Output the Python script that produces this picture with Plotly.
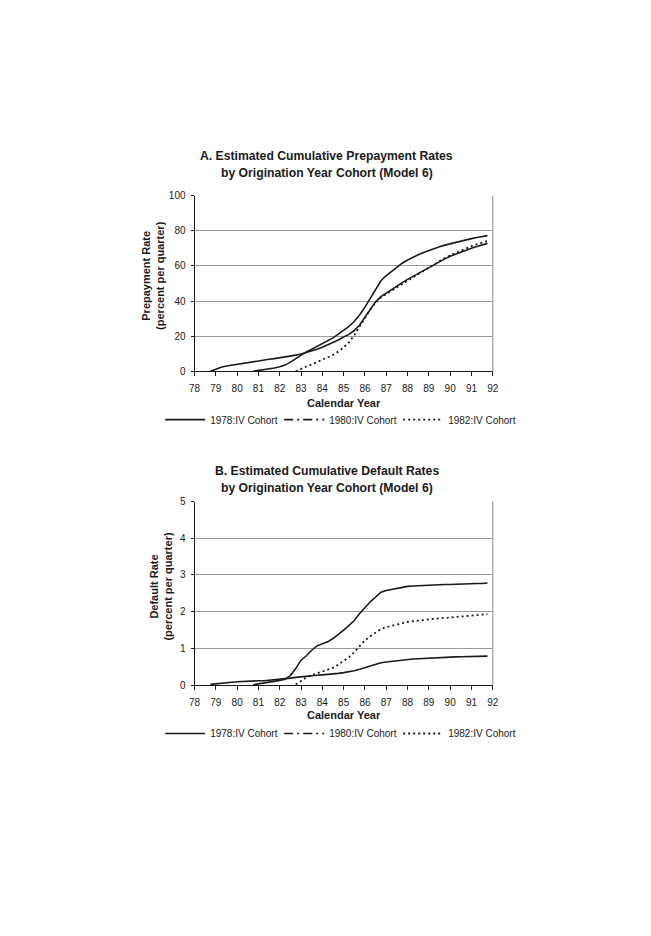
import plotly.graph_objects as go

# ---------------- data ----------------
years_tick = list(range(78, 93))
tick_labels = [str(y) for y in years_tick]

# quarterly x positions (calendar year, 2-digit)
x_1978 = [78.75 + 0.25 * i for i in range(53)]
x_1980 = [80.75 + 0.25 * i for i in range(45)]
x_1982 = [82.75 + 0.25 * i for i in range(37)]

prepay_1978 = [0.0, 1.2, 2.3, 3.0, 3.5, 4.0, 4.6, 5.2, 5.7, 6.1, 6.5, 6.8, 7.2, 7.6,
               8.0, 8.6, 9.2, 9.8, 10.6, 11.6, 12.6, 13.7, 15.0, 16.3, 17.8, 19.5,
               21.0, 23.2, 26.3, 30.8, 35.5, 39.5, 42.5, 44.6, 46.6, 48.5, 50.5,
               52.3, 54.0, 55.8, 57.5, 59.2, 60.9, 62.5, 64.0, 65.5, 66.7, 67.8,
               68.9, 70.0, 71.0, 72.0, 72.8]
prepay_1980 = [0.0, 0.4, 0.9, 1.3, 1.9, 2.6, 3.5, 5.2, 7.2, 9.3, 11.0, 12.5, 14.2,
               15.8, 17.4, 19.0, 21.2, 23.3, 25.5, 28.5, 32.0, 36.5, 41.5, 46.0,
               51.5, 54.5, 57.0, 59.5, 61.5, 63.3, 64.9, 66.3, 67.6, 68.8, 69.9,
               70.9, 71.8, 72.6, 73.4, 74.1, 74.8, 75.5, 76.1, 76.7, 77.2]
prepay_1982 = [0.0, 1.5, 2.7, 3.9, 5.2, 6.5, 7.8, 9.3, 11.2, 13.5, 16.5, 20.5, 25.5,
               30.5, 35.2, 39.0, 42.0, 44.0, 45.8, 47.6, 49.6, 51.5, 53.4, 55.3,
               57.2, 59.2, 61.0, 62.8, 64.5, 66.0, 67.4, 68.7, 70.0, 71.2, 72.3,
               73.3, 74.2]

default_1978 = [0.02, 0.04, 0.06, 0.07, 0.08, 0.09, 0.10, 0.10, 0.11, 0.12, 0.12,
                0.13, 0.14, 0.15, 0.16, 0.19, 0.21, 0.23, 0.25, 0.26, 0.27, 0.28,
                0.29, 0.31, 0.32, 0.34, 0.36, 0.39, 0.43, 0.48, 0.52, 0.56, 0.61,
                0.63, 0.65, 0.67, 0.69, 0.70, 0.71, 0.72, 0.73, 0.74, 0.745, 0.75,
                0.76, 0.765, 0.77, 0.775, 0.78, 0.78, 0.785, 0.79, 0.79]
default_1980 = [0.01, 0.03, 0.05, 0.07, 0.10, 0.13, 0.16, 0.26, 0.45, 0.68, 0.80,
                0.95, 1.07, 1.12, 1.18, 1.27, 1.38, 1.50, 1.63, 1.76, 1.95, 2.12,
                2.27, 2.40, 2.53, 2.58, 2.61, 2.64, 2.67, 2.69, 2.70, 2.71, 2.72,
                2.72, 2.73, 2.73, 2.74, 2.74, 2.75, 2.75, 2.76, 2.76, 2.77, 2.77,
                2.78]
default_1982 = [0.02, 0.12, 0.21, 0.27, 0.32, 0.36, 0.41, 0.47, 0.56, 0.66, 0.76,
                0.90, 1.07, 1.22, 1.33, 1.44, 1.53, 1.58, 1.62, 1.66, 1.69, 1.72,
                1.74, 1.76, 1.78, 1.79, 1.81, 1.82, 1.83, 1.84, 1.86, 1.87, 1.88,
                1.89, 1.91, 1.92, 1.94]

series_names = ["1978:IV Cohort", "1980:IV Cohort", "1982:IV Cohort"]

# ---------------- layout helpers ----------------
PAGE_OFF = 8           # default body margin of the html page
W, H = 651 - 2 * PAGE_OFF, 936 - 2 * PAGE_OFF
FONT = "Liberation Sans, Arial, sans-serif"
INK = "#1a1a1a"
GRID = "#9a9a9a"


def px_x(p):
    return (p - PAGE_OFF) / W


def px_y(p):
    return 1 - (p - PAGE_OFF) / H


fig = go.Figure()

panels = [
    dict(x="x", y="y", legend="legend",
         data=[(x_1978, prepay_1978), (x_1980, prepay_1980), (x_1982, prepay_1982)]),
    dict(x="x2", y="y2", legend="legend2",
         data=[(x_1978, default_1978), (x_1980, default_1980), (x_1982, default_1982)]),
]

for p in panels:
    (xa, ya), (xb, yb), (xc, yc) = p["data"]
    fig.add_trace(go.Scatter(x=xa, y=ya, mode="lines", name=series_names[0],
                             line=dict(color=INK, width=1.6), xaxis=p["x"], yaxis=p["y"],
                             legend=p["legend"], legendrank=1))
    # 1980 appears solid in the plot body, dash-dot in the key
    fig.add_trace(go.Scatter(x=xb, y=yb, mode="lines", name=series_names[1],
                             line=dict(color=INK, width=1.6), xaxis=p["x"], yaxis=p["y"],
                             showlegend=False))
    fig.add_trace(go.Scatter(x=[None], y=[None], mode="lines", name=series_names[1],
                             line=dict(color=INK, width=1.6, dash="9px,4px,2px,4px"),
                             xaxis=p["x"], yaxis=p["y"], legend=p["legend"], legendrank=2))
    fig.add_trace(go.Scatter(x=xc, y=yc, mode="lines", name=series_names[2],
                             line=dict(color=INK, width=1.8, dash="2px,3px"),
                             xaxis=p["x"], yaxis=p["y"], legend=p["legend"], legendrank=3))

xdom = [px_x(192), px_x(496)]
axis_common = dict(
    showline=True, linecolor=INK, linewidth=1,
    ticks="outside", tickcolor=INK, tickwidth=1,
    tickfont=dict(family=FONT, size=10, color=INK),
    zeroline=False,
)

legend_common = dict(orientation="h", xanchor="left", yanchor="middle",
                     font=dict(family=FONT, size=10, color=INK),
                     bgcolor="rgba(0,0,0,0)", itemwidth=40, tracegroupgap=0,
                     traceorder="normal", entrywidth=64, entrywidthmode="pixels")

fig.update_layout(
    width=W, height=H,
    margin=dict(l=0, r=0, t=0, b=0),
    paper_bgcolor="white", plot_bgcolor="white",
    font=dict(family=FONT, color=INK),
    xaxis=dict(domain=xdom, anchor="y", range=[78, 92], tickvals=years_tick,
               ticktext=tick_labels, showgrid=False, ticklen=4, ticklabelstandoff=4,
               **axis_common),
    yaxis=dict(domain=[px_y(370), px_y(192)], anchor="x", range=[0, 100],
               tickvals=[0, 20, 40, 60, 80, 100], showgrid=True, gridcolor=GRID,
               gridwidth=1, ticklen=3, ticklabelstandoff=3, **axis_common),
    xaxis2=dict(domain=xdom, anchor="y2", range=[78, 92], tickvals=years_tick,
                ticktext=tick_labels, showgrid=False, ticklen=4, ticklabelstandoff=4,
                **axis_common),
    yaxis2=dict(domain=[px_y(688), px_y(502)], anchor="x2", range=[0, 5],
                tickvals=[0, 1, 2, 3, 4, 5], showgrid=True, gridcolor=GRID,
                gridwidth=1, ticklen=3, ticklabelstandoff=3, **axis_common),
    legend=dict(x=px_x(157), y=px_y(419), **legend_common),
    legend2=dict(x=px_x(157), y=px_y(737), **legend_common),
)

# right-hand plot border (grey), as in the reference
for xr, yr in (("x domain", "y domain"), ("x2 domain", "y2 domain")):
    fig.add_shape(type="line", xref=xr, yref=yr, x0=1, x1=1, y0=0, y1=1,
                  line=dict(color="#8a8a8a", width=1))

title_font = dict(family=FONT, size=12.2, color=INK)
ann = [
    ("<b>A. Estimated Cumulative Prepayment Rates</b>", 327, 152),
    ("<b>by Origination Year Cohort (Model 6)</b>", 327, 169),
    ("<b>B. Estimated Cumulative Default Rates</b>", 327, 471),
    ("<b>by Origination Year Cohort (Model 6)</b>", 327, 488),
]
for text, cx, cy in ann:
    fig.add_annotation(text=text, x=px_x(cx), y=px_y(cy), xref="paper", yref="paper",
                       showarrow=False, xanchor="center", yanchor="middle", font=title_font)

label_font = dict(family=FONT, size=11, color=INK)
for cy in (402, 718):
    fig.add_annotation(text="<b>Calendar Year</b>", x=px_x(344), y=px_y(cy), xref="paper",
                       yref="paper", showarrow=False, xanchor="center", yanchor="middle",
                       font=label_font)

fig.add_annotation(text="<b>Prepayment Rate<br>(percent per quarter)</b>", x=px_x(149),
                   y=px_y(273), xref="paper", yref="paper", showarrow=False, textangle=-90,
                   xanchor="center", yanchor="middle", font=label_font)
fig.add_annotation(text="<b>Default Rate<br>(percent per quarter)</b>", x=px_x(158),
                   y=px_y(588), xref="paper", yref="paper", showarrow=False, textangle=-90,
                   xanchor="center", yanchor="middle", font=label_font)

fig.write_html("out.html")
